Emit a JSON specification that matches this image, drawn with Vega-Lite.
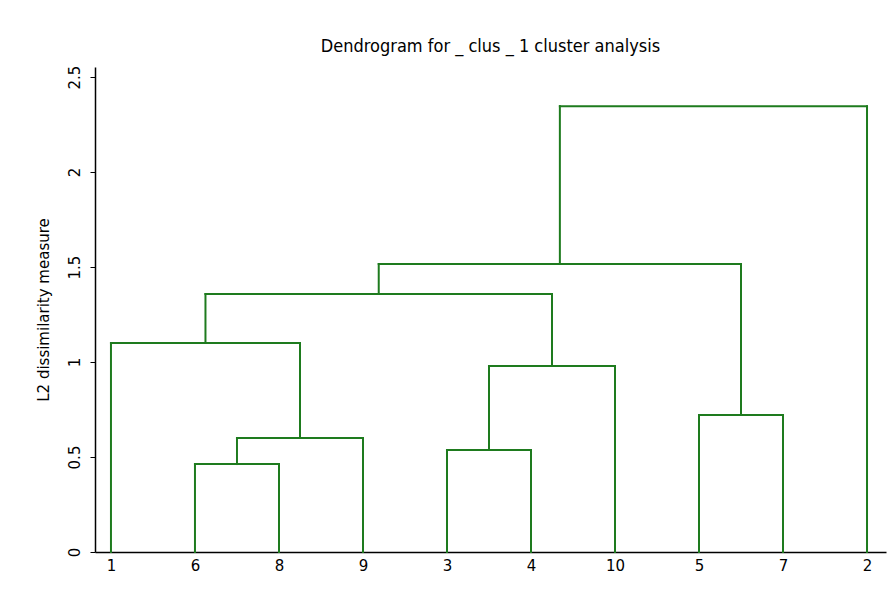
{
  "$schema": "https://vega.github.io/schema/vega-lite/v6.json",
  "width": 791,
  "height": 485,
  "autosize": {"type": "none"},
  "padding": {"left": 95, "top": 67, "right": 6, "bottom": 45},
  "background": "white",
  "title": {
    "text": "Dendrogram for _ clus _ 1 cluster analysis",
    "font": "DejaVu Sans Condensed",
    "fontSize": 18,
    "fontWeight": "normal",
    "color": "black",
    "anchor": "middle",
    "offset": 9
  },
  "config": {"view": {"stroke": null}},
  "data": {
    "values": [
      {"x": 1, "x2": 1, "y": 0, "y2": 0.463},
      {"x": 2, "x2": 2, "y": 0, "y2": 0.463},
      {"x": 1, "x2": 2, "y": 0.463, "y2": 0.463},
      {"x": 1.5, "x2": 1.5, "y": 0.463, "y2": 0.6},
      {"x": 3, "x2": 3, "y": 0, "y2": 0.6},
      {"x": 1.5, "x2": 3, "y": 0.6, "y2": 0.6},
      {"x": 0, "x2": 0, "y": 0, "y2": 1.1},
      {"x": 2.25, "x2": 2.25, "y": 0.6, "y2": 1.1},
      {"x": 0, "x2": 2.25, "y": 1.1, "y2": 1.1},
      {"x": 4, "x2": 4, "y": 0, "y2": 0.537},
      {"x": 5, "x2": 5, "y": 0, "y2": 0.537},
      {"x": 4, "x2": 5, "y": 0.537, "y2": 0.537},
      {"x": 4.5, "x2": 4.5, "y": 0.537, "y2": 0.979},
      {"x": 6, "x2": 6, "y": 0, "y2": 0.979},
      {"x": 4.5, "x2": 6, "y": 0.979, "y2": 0.979},
      {"x": 1.125, "x2": 1.125, "y": 1.1, "y2": 1.358},
      {"x": 5.25, "x2": 5.25, "y": 0.979, "y2": 1.358},
      {"x": 1.125, "x2": 5.25, "y": 1.358, "y2": 1.358},
      {"x": 7, "x2": 7, "y": 0, "y2": 0.721},
      {"x": 8, "x2": 8, "y": 0, "y2": 0.721},
      {"x": 7, "x2": 8, "y": 0.721, "y2": 0.721},
      {"x": 3.1875, "x2": 3.1875, "y": 1.358, "y2": 1.516},
      {"x": 7.5, "x2": 7.5, "y": 0.721, "y2": 1.516},
      {"x": 3.1875, "x2": 7.5, "y": 1.516, "y2": 1.516},
      {"x": 5.34375, "x2": 5.34375, "y": 1.516, "y2": 2.347},
      {"x": 9, "x2": 9, "y": 0, "y2": 2.347},
      {"x": 5.34375, "x2": 9, "y": 2.347, "y2": 2.347}
    ]
  },
  "mark": {"type": "rule", "color": "#1e7b1e", "strokeWidth": 2, "strokeCap": "square"},
  "encoding": {
    "x": {
      "field": "x",
      "type": "quantitative",
      "scale": {"domain": [-0.19, 9.226], "nice": false, "zero": false},
      "axis": {
        "title": null,
        "values": [0, 1, 2, 3, 4, 5, 6, 7, 8, 9],
        "labelExpr": "['1','6','8','9','3','4','10','5','7','2'][datum.value]",
        "grid": false,
        "ticks": false,
        "domainColor": "black",
        "domainWidth": 1.5,
        "labelFont": "DejaVu Sans",
        "labelFontSize": 15,
        "labelColor": "black",
        "labelPadding": 6,
        "labelFlush": false,
        "labelOverlap": false
      }
    },
    "x2": {"field": "x2"},
    "y": {
      "field": "y",
      "type": "quantitative",
      "scale": {"domain": [0, 2.553], "nice": false},
      "axis": {
        "title": "L2 dissimilarity measure",
        "titleFont": "DejaVu Sans",
        "titleFontSize": 15,
        "titleFontWeight": "normal",
        "titleColor": "black",
        "titlePadding": 16,
        "values": [0, 0.5, 1, 1.5, 2, 2.5],
        "labelExpr": "format(datum.value, '~g')",
        "labelAngle": -90,
        "labelAlign": "center",
        "labelBaseline": "bottom",
        "labelFont": "DejaVu Sans",
        "labelFontSize": 15,
        "labelColor": "black",
        "labelPadding": 8,
        "labelFlush": false,
        "grid": false,
        "tickColor": "black",
        "tickSize": 5,
        "domainColor": "black",
        "domainWidth": 1.5
      }
    },
    "y2": {"field": "y2"}
  }
}
